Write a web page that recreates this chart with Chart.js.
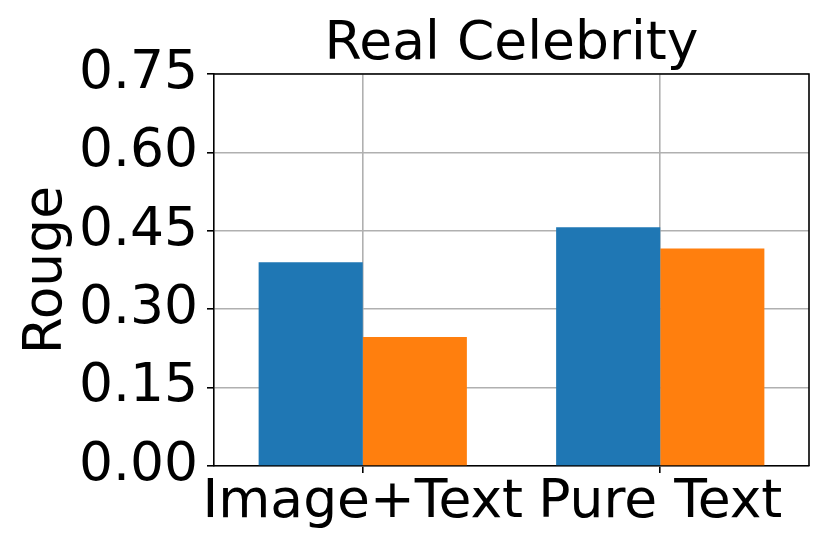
<!DOCTYPE html>
<html>
<head>
<meta charset="utf-8">
<script src="https://cdn.jsdelivr.net/npm/chart.js@4"></script>
<style>
  html, body { margin: 0; padding: 0; background: #ffffff; }
  canvas { display: block; }
</style>
</head>
<body>
<canvas id="c" width="830" height="554"></canvas>
<script>
const categories = ["Image+Text", "Pure Text"];
const seriesA = [0.390, 0.457];
const seriesB = [0.247, 0.416];
const yTicks = [0, 0.15, 0.30, 0.45, 0.60, 0.75];
const chartTitle = "Real Celebrity";
const yTitle = "Rouge";

const FONT = "'DejaVu Sans', sans-serif";
const FS = 53.5;

const frame = {
  id: 'frame',
  afterDraw(chart) {
    const a = chart.chartArea, ctx = chart.ctx;
    ctx.save();
    ctx.strokeStyle = '#000';
    ctx.lineWidth = 1.6;
    ctx.beginPath();
    ctx.moveTo(a.left, a.top); ctx.lineTo(a.right, a.top);
    ctx.lineTo(a.right, a.bottom);
    ctx.stroke();
    ctx.restore();
  }
};

new Chart(document.getElementById('c'), {
  type: 'bar',
  data: {
    labels: categories,
    datasets: [
      { label: 'A', data: seriesA, backgroundColor: '#1f77b4', borderWidth: 0 },
      { label: 'B', data: seriesB, backgroundColor: '#ff7f0e', borderWidth: 0 }
    ]
  },
  options: {
    responsive: false,
    animation: false,
    devicePixelRatio: 1,
    layout: { padding: { left: 0, right: 21, top: 0, bottom: 0 } },
    datasets: { bar: { categoryPercentage: 0.7, barPercentage: 1.0 } },
    plugins: {
      legend: { display: false },
      tooltip: { enabled: false },
      title: { display: false }
    },
    scales: {
      x: {
        z: 1,
        offset: true,
        grid: { offset: false, color: '#b0b0b0', lineWidth: 1.6, tickLength: 7, tickColor: '#000', tickWidth: 1.6, drawTicks: true },
        border: { color: '#000', width: 1.6 },
        ticks: { color: '#000', padding: 3, maxRotation: 0, autoSkip: false, font: { family: FONT, size: FS, lineHeight: 1.0 } },
        afterFit: (s) => { s.height = 88; }
      },
      xTop: {
        type: 'category',
        position: 'top',
        labels: categories,
        offset: true,
        grid: { display: false, drawTicks: false },
        border: { display: false },
        ticks: { display: false },
        title: { display: true, text: chartTitle, color: '#000', padding: { top: 18, bottom: 0 }, font: { family: FONT, size: FS, lineHeight: 1.0 } },
        afterFit: (s) => { s.height = 74; }
      },
      y: {
        z: 1,
        min: 0,
        max: 0.75,
        afterBuildTicks: (s) => { s.ticks = yTicks.map(v => ({ value: v })); },
        grid: { color: '#b0b0b0', lineWidth: 1.6, tickLength: 7, tickColor: '#000', tickWidth: 1.6 },
        border: { color: '#000', width: 1.6 },
        ticks: { color: '#000', padding: 9, callback: (v) => Number(v).toFixed(2), font: { family: FONT, size: FS, lineHeight: 1.0 } },
        title: { display: true, text: yTitle, color: '#000', padding: { top: 20, bottom: 0 }, font: { family: FONT, size: FS, lineHeight: 1.0 } },
        afterFit: (s) => { s.width = 214; }
      }
    }
  },
  plugins: [frame]
});
</script>
</body>
</html>
